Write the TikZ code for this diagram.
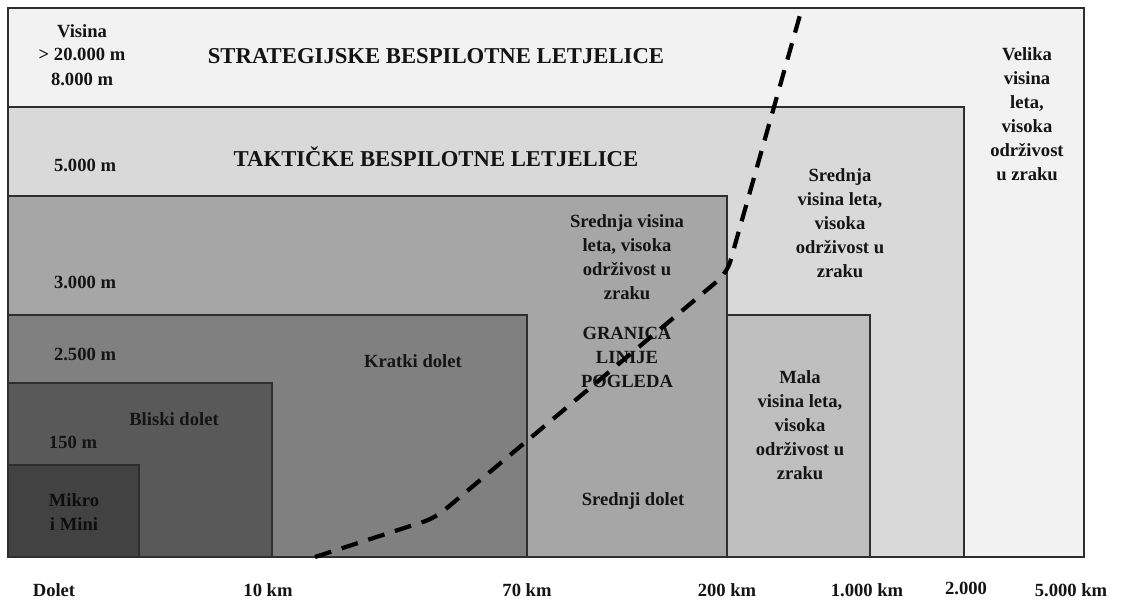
\documentclass[tikz,border=0pt]{standalone}
\usepackage{fontspec}
\setmainfont{Liberation Serif}
\begin{document}
\begin{tikzpicture}[x=1pt,y=-1pt,
  zone/.style={draw=black!82,line width=1.3pt},
  lbl/.style={font=\bfseries\fontsize{18.6}{24}\selectfont,align=center,inner sep=0pt,text=black!92},
  ttl/.style={font=\bfseries\fontsize{22.7}{26}\selectfont,inner sep=0pt,text=black!92},
  los/.style={line width=4.2pt,dash pattern=on 17pt off 11pt,line join=round}]
\useasboundingbox[fill=white] (0,0) rectangle (1122,601);
% zones
\filldraw[zone,fill=black!5] (8,8) rectangle (1084,557);
\filldraw[zone,fill=black!15] (8,107) rectangle (964,557);
\filldraw[zone,fill=black!35] (8,196) rectangle (727,557);
\filldraw[zone,fill=black!25] (727,315) rectangle (870,557);
\filldraw[zone,fill=black!50] (8,315) rectangle (527,557);
\filldraw[zone,fill=black!65] (8,383) rectangle (272,557);
\filldraw[zone,fill=black!74] (8,465) rectangle (139,557);
% altitude labels
\node[lbl] (visina) at (82,31) {Visina};
\node[lbl] (h20000) at (82,54) {> 20.000 m};
\node[lbl] (h8000) at (82,79) {8.000 m};
\node[lbl] (h5000) at (85,165) {5.000 m};
\node[lbl] (h3000) at (85,282) {3.000 m};
\node[lbl] (h2500) at (85,354) {2.500 m};
\node[lbl] (h150) at (73,442) {150 m};
% titles
\node[ttl] (strat) at (436,56) {STRATEGIJSKE BESPILOTNE LETJELICE};
\node[ttl] (takt) at (436,157) {TAKTIČKE BESPILOTNE LETJELICE};
% zone labels
\node[lbl] (kratki) at (413,361) {Kratki dolet};
\node[lbl] (bliski) at (174,419) {Bliski dolet};
\node[lbl,text=black!95] (mikro) at (74,512) {Mikro\\i Mini};
\node[lbl] (srmid) at (627,257) {Srednja visina\\leta, visoka\\održivost u\\zraku};
\node[lbl] (granica) at (627,357) {GRANICA\\LINIJE\\POGLEDA};
\node[lbl] (srednji) at (633,501) {Srednji dolet};
\node[lbl] (srright) at (840,223) {Srednja\\visina leta,\\visoka\\održivost u\\zraku};
\node[lbl] (mala) at (800,425) {Mala\\visina leta,\\visoka\\održivost u\\zraku};
\node[lbl] (velika) at (1027,114) {Velika\\visina\\leta,\\visoka\\održivost\\u zraku};
% range labels
\node[lbl] (dolet) at (54,590) {Dolet};
\node[lbl] (r10) at (268,590) {10 km};
\node[lbl] (r70) at (527,590) {70 km};
\node[lbl] (r200) at (727,590) {200 km};
\node[lbl] (r1000) at (867,590) {1.000 km};
\node[lbl] (r2000) at (966,588) {2.000};
\node[lbl] (r5000) at (1071,590) {5.000 km};
% line of sight
\coordinate (l0) at (315,557);
\coordinate (l1) at (435,518);
\coordinate (l2) at (727,273);
\coordinate (l3) at (802,8);
\draw[los,rounded corners=12pt] (l0) -- (l1) -- (l2) -- (l3);
\end{tikzpicture}
\end{document}
